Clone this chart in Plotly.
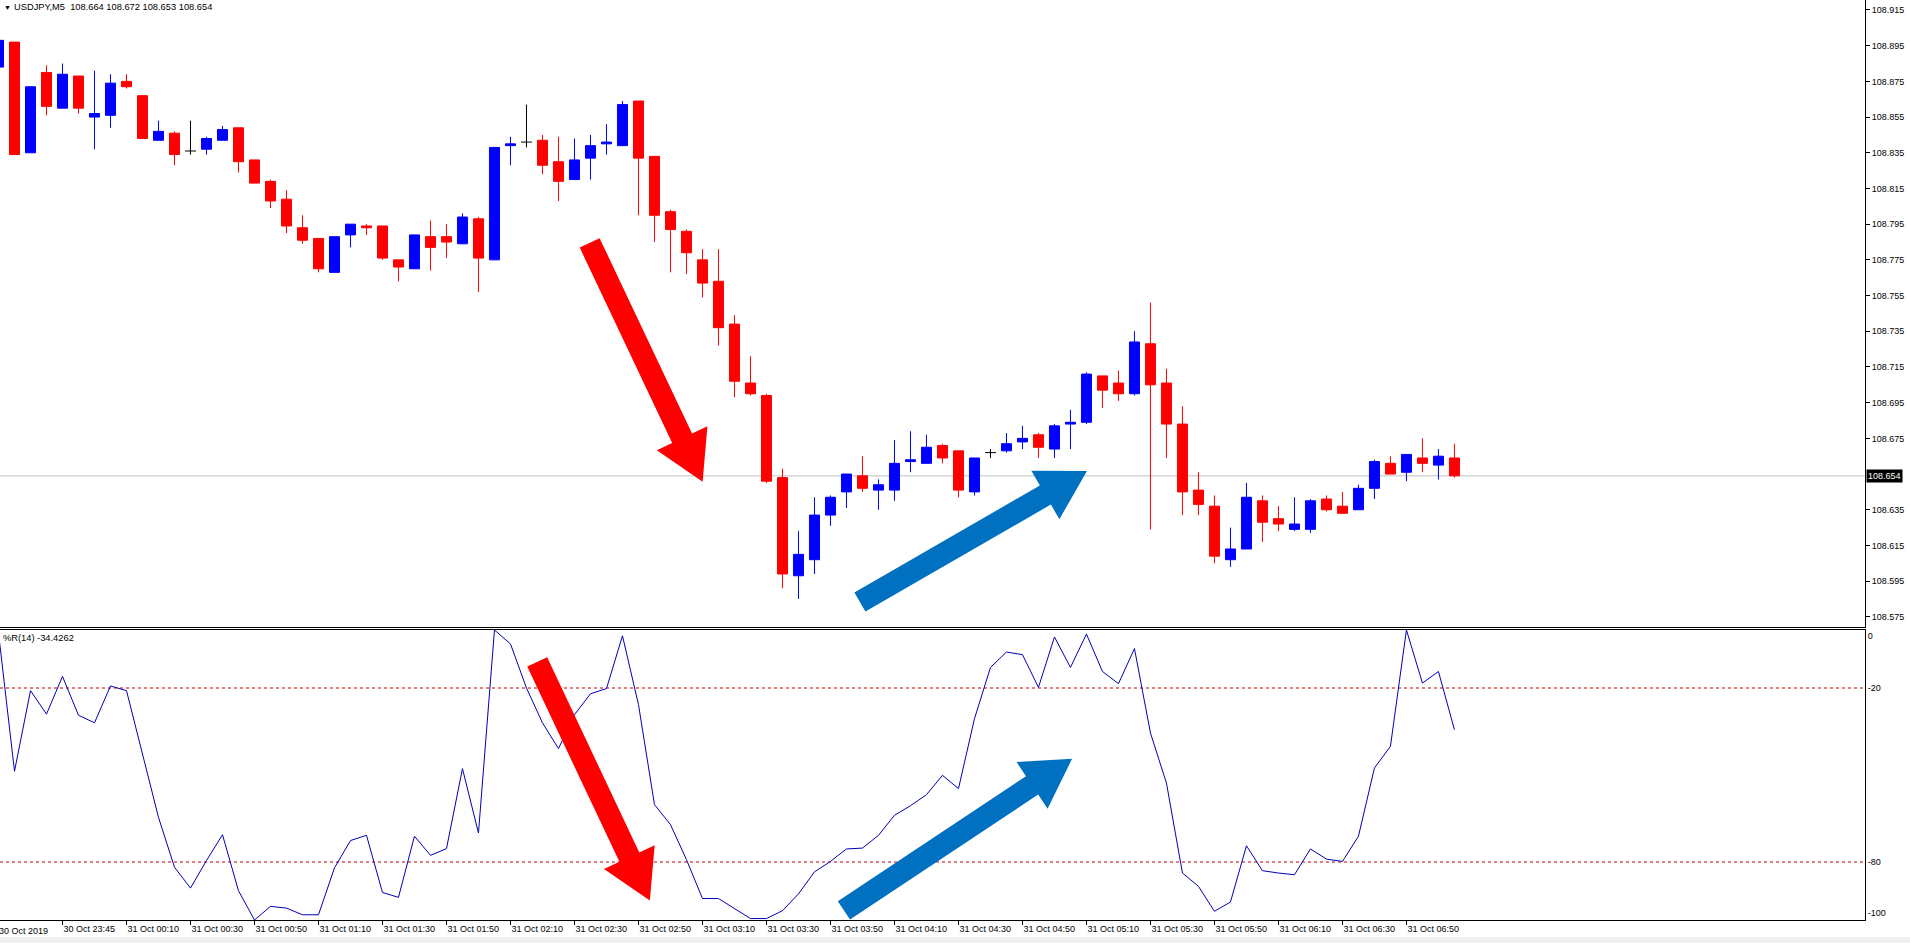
import math
import plotly.graph_objects as go

# ---------------- data ----------------
TITLE = "USDJPY,M5  108.664 108.672 108.653 108.654"
IND_LABEL = "%R(14) -34.4262"
FIRST_DATE_LABEL = "30 Oct 2019"
LAST_PRICE = 108.654
LAST_PRICE_LABEL = "108.654"

bars = list(range(92))
opens = [108.883, 108.897, 108.835, 108.880, 108.860, 108.878, 108.855, 108.856, 108.875, 108.867,
         108.842, 108.846, 108.836, 108.837, 108.842, 108.849, 108.831, 108.819, 108.809, 108.793,
         108.787, 108.768, 108.789, 108.794, 108.794, 108.775, 108.770, 108.788, 108.788, 108.784,
         108.798, 108.775, 108.839, 108.841, 108.842, 108.830, 108.820, 108.832, 108.840, 108.839,
         108.864, 108.833, 108.802, 108.791, 108.775, 108.763, 108.739, 108.706, 108.699, 108.653,
         108.598, 108.607, 108.632, 108.645, 108.654, 108.646, 108.646, 108.662, 108.661, 108.671,
         108.668, 108.645, 108.667, 108.668, 108.673, 108.677, 108.669, 108.683, 108.684, 108.710,
         108.706, 108.700, 108.728, 108.706, 108.683, 108.646, 108.637, 108.607, 108.613, 108.640,
         108.630, 108.624, 108.624, 108.641, 108.637, 108.635, 108.647, 108.661, 108.656, 108.664,
         108.660, 108.664]
highs = [108.898, 108.897, 108.872, 108.884, 108.885, 108.878, 108.881, 108.879, 108.879, 108.867,
         108.853, 108.847, 108.853, 108.844, 108.850, 108.849, 108.831, 108.820, 108.814, 108.800,
         108.787, 108.788, 108.795, 108.795, 108.794, 108.775, 108.789, 108.797, 108.795, 108.801,
         108.799, 108.838, 108.844, 108.862, 108.845, 108.844, 108.843, 108.845, 108.851, 108.864,
         108.864, 108.833, 108.803, 108.792, 108.781, 108.781, 108.744, 108.721, 108.700, 108.658,
         108.623, 108.642, 108.643, 108.655, 108.665, 108.652, 108.674, 108.679, 108.677, 108.672,
         108.668, 108.664, 108.669, 108.678, 108.682, 108.678, 108.683, 108.691, 108.712, 108.710,
         108.713, 108.735, 108.751, 108.714, 108.693, 108.656, 108.643, 108.625, 108.650, 108.643,
         108.637, 108.642, 108.641, 108.643, 108.645, 108.649, 108.663, 108.665, 108.666, 108.675,
         108.669, 108.672]
lows = [108.883, 108.834, 108.835, 108.856, 108.860, 108.857, 108.837, 108.849, 108.871, 108.843,
        108.842, 108.828, 108.834, 108.834, 108.842, 108.824, 108.818, 108.804, 108.790, 108.784,
        108.768, 108.768, 108.782, 108.789, 108.775, 108.763, 108.770, 108.769, 108.776, 108.784,
        108.757, 108.775, 108.828, 108.838, 108.823, 108.808, 108.820, 108.820, 108.834, 108.839,
        108.800, 108.785, 108.768, 108.767, 108.754, 108.727, 108.698, 108.699, 108.650, 108.591,
        108.585, 108.599, 108.626, 108.636, 108.645, 108.635, 108.640, 108.656, 108.661, 108.661,
        108.642, 108.643, 108.664, 108.667, 108.669, 108.664, 108.664, 108.669, 108.683, 108.692,
        108.696, 108.699, 108.624, 108.664, 108.632, 108.632, 108.605, 108.603, 108.613, 108.617,
        108.623, 108.623, 108.622, 108.634, 108.633, 108.635, 108.641, 108.655, 108.651, 108.656,
        108.652, 108.653]
closes = [108.898, 108.834, 108.872, 108.861, 108.879, 108.860, 108.857, 108.874, 108.872, 108.843,
          108.847, 108.834, 108.836, 108.843, 108.848, 108.830, 108.818, 108.808, 108.794, 108.786,
          108.770, 108.788, 108.795, 108.793, 108.776, 108.771, 108.789, 108.782, 108.785, 108.799,
          108.776, 108.838, 108.840, 108.841, 108.828, 108.819, 108.831, 108.839, 108.841, 108.862,
          108.832, 108.800, 108.792, 108.779, 108.762, 108.737, 108.707, 108.700, 108.651, 108.599,
          108.610, 108.632, 108.642, 108.655, 108.647, 108.649, 108.661, 108.663, 108.670, 108.664,
          108.646, 108.664, 108.667, 108.672, 108.675, 108.670, 108.682, 108.684, 108.711, 108.702,
          108.700, 108.729, 108.705, 108.683, 108.645, 108.638, 108.609, 108.613, 108.642, 108.628,
          108.627, 108.627, 108.640, 108.635, 108.633, 108.647, 108.662, 108.655, 108.666, 108.661,
          108.665, 108.654]
wpr = [-1, -48.7, -20.9, -29, -16, -29.4, -32, -19.3, -20.9, -43,
       -64.6, -81.8, -89, -79.5, -70.6, -89.9, -100, -95.3, -95.9, -98.2,
       -98.2, -82, -72.6, -70.8, -90.5, -92.2, -71.1, -77.7, -75.4, -47.8,
       -70, 0, -4.8, -20, -32, -40.9, -29.2, -22, -20.2, -2,
       -25.7, -60.2, -67.1, -79.2, -92.6, -92.6, -95.9, -99.5, -99.5, -96.8,
       -91, -83.4, -79.8, -75.5, -75.2, -70.8, -63.9, -60.6, -56.8, -50.1,
       -54.7, -30.6, -12.9, -7.6, -8.5, -19.8, -2.4, -12.9, -1.4, -14.3,
       -18.5, -6.4, -35.5, -52.8, -83.8, -88.4, -97, -93.8, -74.4, -83,
       -83.8, -84.4, -75.5, -79, -79.8, -71.1, -47.6, -40.1, 0, -18.3,
       -14.3, -34.4]
tick_bars = [4, 8, 12, 16, 20, 24, 28, 32, 36, 40, 44, 48, 52, 56, 60, 64, 68, 72, 76, 80, 84, 88]
tick_labels = ["30 Oct 23:45", "31 Oct 00:10", "31 Oct 00:30", "31 Oct 00:50", "31 Oct 01:10",
               "31 Oct 01:30", "31 Oct 01:50", "31 Oct 02:10", "31 Oct 02:30", "31 Oct 02:50",
               "31 Oct 03:10", "31 Oct 03:30", "31 Oct 03:50", "31 Oct 04:10", "31 Oct 04:30",
               "31 Oct 04:50", "31 Oct 05:10", "31 Oct 05:30", "31 Oct 05:50", "31 Oct 06:10",
               "31 Oct 06:30", "31 Oct 06:50"]
price_ticks = [108.915, 108.895, 108.875, 108.855, 108.835, 108.815, 108.795, 108.775, 108.755,
               108.735, 108.715, 108.695, 108.675, 108.635, 108.615, 108.595, 108.575]
wpr_levels = [-20, -80]
wpr_tick_vals = [-2, -20, -80, -97.6]
wpr_tick_text = ["0", "-20", "-80", "-100"]

# arrows: (panel, tail (bar, value), tip (bar, value), colour)
ARROWS = [
    ("price", (36.95, 108.7845), (44.01, 108.6507), "#FF0000"),
    ("price", (53.84, 108.5833), (68.03, 108.6567), "#0070C0"),
    ("wpr", (33.67, -11.0), (40.71, -93.3), "#FF0000"),
    ("wpr", (52.84, -96.7), (67.10, -44.4), "#0070C0"),
]

# ---------------- layout constants ----------------
W, H = 1910, 943
ML, MR, MT, MB = 0, 45, 0, 23
PW, PH = W - ML - MR, H - MT - MB
X_RANGE = [0.094, 116.66]
PRICE_RANGE = [108.5693, 108.9206]
WPR_RANGE = [-100, 0]
PRICE_DOMAIN = [1 - 627 / PH, 1]
WPR_DOMAIN = [0, 1 - 630 / PH]
FONT = "Liberation Sans, Arial, sans-serif"


def x_to_px(v):
    return ML + (v - X_RANGE[0]) / (X_RANGE[1] - X_RANGE[0]) * PW


def px_to_x(p):
    return X_RANGE[0] + (p - ML) / PW * (X_RANGE[1] - X_RANGE[0])


def y_to_px(v, rng, dom):
    frac = dom[0] + (v - rng[0]) / (rng[1] - rng[0]) * (dom[1] - dom[0])
    return MT + PH * (1 - frac)


def px_to_y(p, rng, dom):
    frac = 1 - (p - MT) / PH
    return rng[0] + (frac - dom[0]) / (dom[1] - dom[0]) * (rng[1] - rng[0])


def py_paper(p):
    return 1 - (p - MT) / PH


def arrow_path(tail, tip, rng, dom, sw=22, hw=56, hl=48):
    tx, ty = x_to_px(tail[0]), y_to_px(tail[1], rng, dom)
    px, py = x_to_px(tip[0]), y_to_px(tip[1], rng, dom)
    dx, dy = px - tx, py - ty
    L = math.hypot(dx, dy)
    ux, uy = dx / L, dy / L
    nx, ny = -uy, ux
    bx, by = px - ux * hl, py - uy * hl
    pts = [
        (tx + nx * sw / 2, ty + ny * sw / 2),
        (bx + nx * sw / 2, by + ny * sw / 2),
        (bx + nx * hw / 2, by + ny * hw / 2),
        (px, py),
        (bx - nx * hw / 2, by - ny * hw / 2),
        (bx - nx * sw / 2, by - ny * sw / 2),
        (tx - nx * sw / 2, ty - ny * sw / 2),
    ]
    d = []
    for i, (a, b) in enumerate(pts):
        d.append(("M" if i == 0 else "L") + f"{px_to_x(a):.4f},{px_to_y(b, rng, dom):.5f}")
    return " ".join(d) + " Z"


# ---------------- traces ----------------
doji = [k for k in bars if abs(opens[k] - closes[k]) < 1e-9]
normal = [k for k in bars if k not in doji]

fig = go.Figure()
fig.add_trace(go.Candlestick(
    x=[bars[k] for k in normal],
    open=[opens[k] for k in normal], high=[highs[k] for k in normal],
    low=[lows[k] for k in normal], close=[closes[k] for k in normal],
    increasing=dict(line=dict(color="#0000FF", width=1), fillcolor="#0000FF"),
    decreasing=dict(line=dict(color="#FF0000", width=1), fillcolor="#FF0000"),
    hoverinfo="skip", showlegend=False, xaxis="x", yaxis="y",
))

dx_, dy_ = [], []
for k in doji:
    dx_ += [bars[k], bars[k], None, bars[k] - 0.34, bars[k] + 0.34, None]
    dy_ += [lows[k], highs[k], None, opens[k], opens[k], None]
fig.add_trace(go.Scatter(x=dx_, y=dy_, mode="lines", line=dict(color="#000000", width=1),
                         hoverinfo="skip", showlegend=False, xaxis="x", yaxis="y"))

fig.add_trace(go.Scatter(x=bars, y=wpr, mode="lines", line=dict(color="#0000B4", width=1),
                         hoverinfo="skip", showlegend=False, xaxis="x2", yaxis="y2"))

# ---------------- shapes ----------------
shapes = []
shapes.append(dict(type="line", xref="paper", yref="y", x0=0, x1=1, y0=LAST_PRICE, y1=LAST_PRICE,
                   line=dict(color="#C0C0C0", width=1), layer="below"))
for lv in wpr_levels:
    shapes.append(dict(type="line", xref="paper", yref="y2", x0=0, x1=1, y0=lv, y1=lv,
                       line=dict(color="#C00000", width=1, dash="3px,3px"), layer="below"))
for panel, tail, tip, col in ARROWS:
    if panel == "price":
        path = arrow_path(tail, tip, PRICE_RANGE, PRICE_DOMAIN)
        shapes.append(dict(type="path", xref="x", yref="y", path=path, fillcolor=col,
                           line=dict(width=0), layer="above"))
    else:
        path = arrow_path(tail, tip, WPR_RANGE, WPR_DOMAIN)
        shapes.append(dict(type="path", xref="x2", yref="y2", path=path, fillcolor=col,
                           line=dict(width=0), layer="above"))
# bottom window band
shapes.append(dict(type="rect", xref="paper", yref="paper", x0=-0.01, x1=1.03,
                   y0=py_paper(937), y1=py_paper(944),
                   fillcolor="#F0F0F0", line=dict(width=0), layer="below"))

# ---------------- annotations ----------------
ann = []
ann.append(dict(xref="paper", yref="paper", x=1.5 / PW, y=py_paper(7.5), text="▼", showarrow=False,
                xanchor="left", yanchor="middle", font=dict(family=FONT, size=7, color="#000000")))
ann.append(dict(xref="paper", yref="paper", x=12 / PW, y=py_paper(7.5), text=TITLE, showarrow=False,
                xanchor="left", yanchor="middle", font=dict(family=FONT, size=9.3, color="#000000")))
ann.append(dict(xref="paper", yref="paper", x=1 / PW, y=py_paper(638), text=IND_LABEL, showarrow=False,
                xanchor="left", yanchor="middle", font=dict(family=FONT, size=9.3, color="#000000")))
ann.append(dict(xref="paper", yref="paper", x=0, y=py_paper(931), text=FIRST_DATE_LABEL,
                showarrow=False, xanchor="left", yanchor="middle", xshift=-3,
                font=dict(family=FONT, size=9, color="#000000")))
ann.append(dict(xref="paper", yref="y", x=1, y=LAST_PRICE, text=LAST_PRICE_LABEL, showarrow=False,
                xanchor="left", yanchor="middle", xshift=1, bgcolor="#000000", borderpad=1,
                font=dict(family=FONT, size=9, color="#FFFFFF")))

fig.update_layout(
    width=W, height=H,
    margin=dict(l=ML, r=MR, t=MT, b=MB),
    paper_bgcolor="#FFFFFF", plot_bgcolor="#FFFFFF",
    showlegend=False,
    boxgap=0.375, boxgroupgap=0,
    font=dict(family=FONT, size=9, color="#000000"),
    xaxis=dict(domain=[0, 1], range=X_RANGE, anchor="y", showticklabels=False, ticks="",
               showgrid=False, zeroline=False, showline=True, linecolor="#000000", linewidth=1,
               rangeslider=dict(visible=False), fixedrange=True),
    yaxis=dict(domain=PRICE_DOMAIN, range=PRICE_RANGE, anchor="x", side="right",
               tickvals=price_ticks, ticktext=[f"{v:.3f}" for v in price_ticks],
               ticks="outside", ticklen=4, tickcolor="#000000", showgrid=False, zeroline=False,
               showline=True, linecolor="#000000", linewidth=1,
               tickfont=dict(family=FONT, size=9, color="#000000")),
    xaxis2=dict(domain=[0, 1], range=X_RANGE, anchor="y2", tickvals=tick_bars, ticktext=tick_labels,
                ticks="outside", ticklen=4, tickcolor="#000000", ticklabelposition="outside right",
                showgrid=False, zeroline=False, showline=True, mirror=True, linecolor="#000000",
                linewidth=1, tickfont=dict(family=FONT, size=9, color="#000000")),
    yaxis2=dict(domain=WPR_DOMAIN, range=WPR_RANGE, anchor="x2", side="right",
                tickvals=wpr_tick_vals, ticktext=wpr_tick_text, ticks="", showgrid=False,
                zeroline=False, showline=True, linecolor="#000000", linewidth=1,
                tickfont=dict(family=FONT, size=9, color="#000000")),
    shapes=shapes,
    annotations=ann,
)

fig.write_html(
    "out.html",
    config={"displayModeBar": False},
    post_script="document.body.style.margin='0';document.body.style.overflow='hidden';",
)
